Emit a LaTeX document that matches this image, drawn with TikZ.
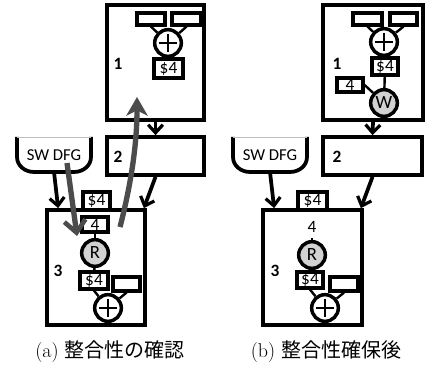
\documentclass[tikz,border=0pt]{standalone}
\usepackage{fontspec}
\newfontfamily\cb{Carlito}
\newfontfamily\cjk{Noto Sans CJK JP}
\usetikzlibrary{fit,arrows.meta}
\tikzset{
  frame/.style={draw, line width=2.8pt, inner sep=0pt},
  sbox/.style={draw, line width=2.4pt, inner sep=0pt, label={[font=\cb\fontsize{13}{13}\selectfont]center:#1}},
  sbox/.default={},
  op/.style={circle, draw, line width=2.6pt, minimum size=20pt, inner sep=0pt},
  mem/.style={op, fill=gray!35, font=\cb\fontsize{14}{14}\selectfont},
  wire/.style={line width=1.8pt},
  plusbar/.style={line width=1.4pt},
  arr/.style={line width=2.8pt, -{Straight Barb[length=6pt,width=11pt,line width=2.4pt]}},
  garrA/.style={line width=4pt, color=gray!60!black, -{Straight Barb[length=9pt,width=16pt,line width=3.5pt]}},
  garrB/.style={line width=4pt, color=gray!60!black, -{Stealth[length=14pt,width=16pt,inset=4pt]}},
  num/.style={font=\cb\bfseries\fontsize{13}{13}\selectfont},
  dfgtxt/.style={font=\cb\fontsize{12.5}{12.5}\selectfont},
  captxt/.style={font=\fontsize{15}{18}\selectfont},
}
\begin{document}
\begin{tikzpicture}[x=0.75pt, y=-0.75pt]
\useasboundingbox (0,0) rectangle (427,370);

% ---------------- (a) ----------------
% block 1
\node[frame, fit={(107,5) (204,120)}] (a1) {};
\node[sbox, fit={(137,13) (165,25)}] (a1i) {};
\node[sbox, fit={(172,13) (201,25)}] (a1j) {};
\node[op] (a1p) at (168,43) {};
\draw[plusbar] (a1p.center) +(-9,0) -- +(9,0) (a1p.center) +(0,-9) -- +(0,9);
\node[sbox=\$4, fit={(154,59) (183,78)}] (a1r) {};
\draw[wire] (a1i.south) -- (a1p);
\draw[wire] (a1j.south) -- (a1p);
\draw[wire] (a1p) -- (a1r);
\node[num] (a1n) at (118,64) {1};

% block 2
\node[frame, fit={(107,137) (204,175)}] (a2) {};
\node[num] (a2n) at (118,157) {2};
\draw[arr] (a1.south) -- (a2.north);

% SW DFG
\draw[line width=2.8pt] (17,137) -- (17,157) to[out=-90,in=180] (34,172) -- (74,172) to[out=0,in=-90] (91,157) -- (91,137);
\draw[gray!50, line width=0.6pt] (17,137) -- (91,137);
\node[dfgtxt] (adfg) at (54,155) {SW DFG};
\coordinate (adfgb) at (54,172);

% block 3
\node[frame, fit={(47,210) (145,325)}] (a3) {};
\node[sbox=\$4, fit={(83,192) (110,210)}] (a3t) {};
\node[sbox=4, fit={(82,217) (108,232)}] (a3k) {};
\node[mem] (a3m) at (95,253) {R};
\node[sbox=\$4, fit={(80,272) (108,289)}] (a3r) {};
\node[sbox, fit={(113,277) (140,291)}] (a3e) {};
\node[op] (a3p) at (108,308) {};
\draw[plusbar] (a3p.center) +(-9,0) -- +(9,0) (a3p.center) +(0,-9) -- +(0,9);
\draw[wire] (a3k) -- (a3m);
\draw[wire] (a3m) -- (a3r);
\draw[wire] (a3r.south) -- (a3p);
\draw[wire] (a3e.south) -- (a3p);
\node[num] (a3n) at (58,271) {3};

\draw[arr] (adfgb) -- ([xshift=9.75pt]a3.north west);
\draw[arr] (a2.south) -- ([xshift=-2.25pt]a3.north east);

% checking paths
\coordinate (gA0) at (67,163);
\coordinate (gA1) at (77,236);
\coordinate (gB0) at (120,227);
\coordinate (gB1) at (137,97);
\draw[garrA] (gA0) -- (gA1);
\draw[garrB] (gB0) .. controls (129,192) and (137,150) .. (gB1);

\node[captxt] (capa) at (110,352) {(a) {\cjk 整合性の確認}};

% ---------------- (b) ----------------
% block 1
\node[frame, fit={(323,5) (423,120)}] (b1) {};
\node[sbox, fit={(353,13) (382,25)}] (b1i) {};
\node[sbox, fit={(390,13) (417,25)}] (b1j) {};
\node[op] (b1p) at (384,42) {};
\draw[plusbar] (b1p.center) +(-9,0) -- +(9,0) (b1p.center) +(0,-9) -- +(0,9);
\node[sbox=\$4, fit={(372,58) (398,75)}] (b1r) {};
\node[sbox=4, fit={(337,78) (363,92)}] (b1k) {};
\node[mem] (b1m) at (384,103) {W};
\draw[wire] (b1i.south) -- (b1p);
\draw[wire] (b1j.south) -- (b1p);
\draw[wire] (b1p) -- (b1r);
\draw[wire] (b1r) -- (b1m);
\draw[wire] (b1k.east) -- (b1m);
\node[num] (b1n) at (337,64) {1};

% block 2
\node[frame, fit={(323,137) (422,175)}] (b2) {};
\node[num] (b2n) at (337,157) {2};
\draw[arr] (b1.south) -- (b2.north);

% SW DFG
\draw[line width=2.8pt] (233,137) -- (233,157) to[out=-90,in=180] (250,172) -- (290,172) to[out=0,in=-90] (307,157) -- (307,137);
\draw[gray!50, line width=0.6pt] (233,137) -- (307,137);
\node[dfgtxt] (bdfg) at (270,155) {SW DFG};
\coordinate (bdfgb) at (270,172);

% block 3
\node[frame, fit={(263,210) (362,325)}] (b3) {};
\node[sbox=\$4, fit={(298,192) (327,210)}] (b3t) {};
\node[font=\cb\fontsize{13}{13}\selectfont] (b3k) at (312,227) {4};
\node[mem] (b3m) at (312,255) {R};
\coordinate (b3s) at (312,238);
\node[sbox=\$4, fit={(297,272) (323,288)}] (b3r) {};
\node[sbox, fit={(330,277) (358,291)}] (b3e) {};
\node[op] (b3p) at (325,308) {};
\draw[plusbar] (b3p.center) +(-9,0) -- +(9,0) (b3p.center) +(0,-9) -- +(0,9);
\draw[wire] (b3s) -- (b3m);
\draw[wire] (b3m) -- (b3r);
\draw[wire] (b3r.south) -- (b3p);
\draw[wire] (b3e.south) -- (b3p);
\node[num] (b3n) at (275,271) {3};

\draw[arr] (bdfgb) -- ([xshift=9.75pt]b3.north west);
\draw[arr] (b2.south) -- ([xshift=-2.25pt]b3.north east);

\node[captxt] (capb) at (326,352) {(b) {\cjk 整合性確保後}};
\end{tikzpicture}
\end{document}
